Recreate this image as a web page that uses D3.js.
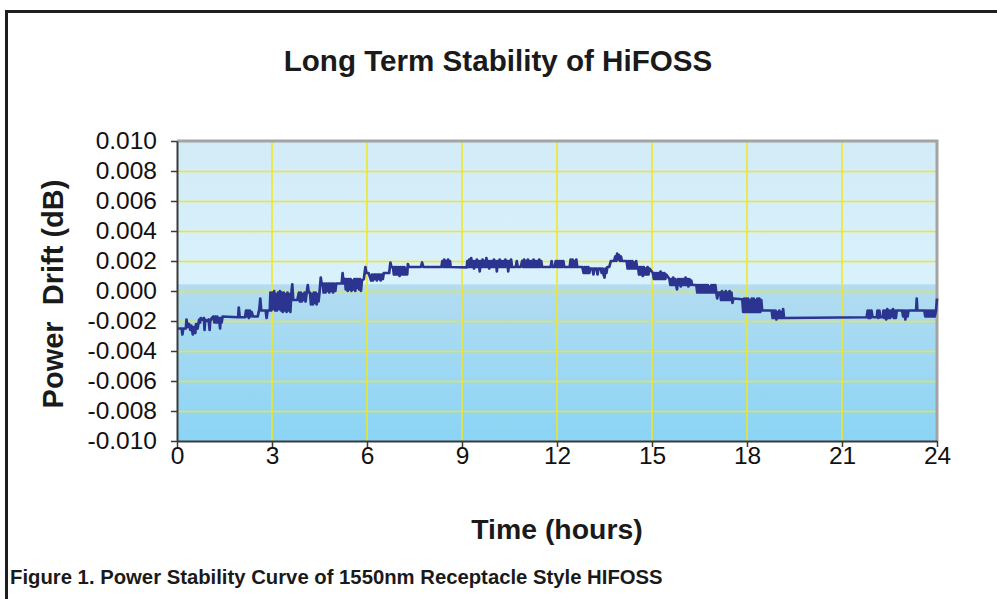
<!DOCTYPE html>
<html>
<head>
<meta charset="utf-8">
<script src="https://cdn.jsdelivr.net/npm/d3@7/dist/d3.min.js"></script>
<style>
  html, body { margin: 0; padding: 0; background: #ffffff; }
  svg { display: block; font-family: "Liberation Sans", Arial, sans-serif; }
</style>
</head>
<body>
<svg id="chart" width="997" height="599"></svg>
<script>
// ---------------- data ----------------
const chartTitle = "Long Term Stability of HiFOSS";
const xAxisTitle = "Time (hours)";
const yAxisTitle = "Power  Drift (dB)";
const captionText = "Figure 1. Power Stability Curve of 1550nm Receptacle Style HIFOSS";

const xTickValues = [0, 3, 6, 9, 12, 15, 18, 21, 24];
const xTickLabels = ["0", "3", "6", "9", "12", "15", "18", "21", "24"];
const yTickValues = [0.010, 0.008, 0.006, 0.004, 0.002, 0.000, -0.002, -0.004, -0.006, -0.008, -0.010];
const yTickLabels = ["0.010", "0.008", "0.006", "0.004", "0.002", "0.000", "-0.002", "-0.004", "-0.006", "-0.008", "-0.010"];

// [time (hours), power drift (dB)]
const driftReadings = [
  [0,-0.0025],[0.15,-0.0025],[0.17,-0.0029],[0.2,-0.0025],[0.28,-0.0025],[0.3,-0.0019],[0.33,-0.0024],[0.38,-0.0022],
  [0.42,-0.0026],[0.45,-0.0023],[0.5,-0.0029],[0.53,-0.0024],[0.58,-0.0028],[0.6,-0.0022],[0.65,-0.0025],[0.7,-0.0019],[0.73,-0.0021],
  [0.75,-0.0018],[0.8,-0.0019],[0.85,-0.0018],[0.87,-0.0026],[0.89,-0.0019],[0.95,-0.002],[1.0,-0.0019],[1.03,-0.0026],[1.05,-0.002],[1.1,-0.0018],
  [1.15,-0.0017],[1.18,-0.0021],[1.21,-0.0017],[1.24,-0.0021],[1.27,-0.0017],[1.3,-0.0021],[1.33,-0.0018],[1.36,-0.0025],[1.38,-0.0018],[1.41,-0.0021],[1.44,-0.0017],
  [1.93,-0.00175],[1.95,-0.0011],[1.98,-0.00175],[2.15,-0.00175],
  [2.18,-0.0013],[2.21,-0.0017],[2.24,-0.0013],[2.27,-0.0018],[2.3,-0.0013],[2.33,-0.0017],[2.36,-0.0014],[2.4,-0.0017],[2.55,-0.0017],
  [2.6,-0.0012],[2.63,-0.0005],[2.66,-0.0013],[2.8,-0.0013],[2.83,-0.0018],[2.86,-0.0013],[2.93,-0.0013],
  [2.95,-0.0001],[2.98,-0.0013],[3.01,-0.0001],[3.04,-0.0012],[3.07,0.0],[3.1,-0.0013],[3.13,-0.0002],[3.16,-0.0013],[3.19,-0.0001],
  [3.22,-0.0012],[3.25,0.0],[3.28,-0.0013],[3.31,-0.0001],[3.34,-0.0014],[3.37,-0.0001],[3.4,-0.0013],[3.43,-0.0002],[3.46,-0.0014],
  [3.49,-0.0001],[3.52,-0.0013],[3.55,-0.0002],[3.58,-0.0014],[3.61,-0.0002],
  [3.64,0.00045],[3.67,-0.0006],[3.8,-0.0006],
  [3.85,-0.0001],[3.88,-0.0007],[3.91,-0.0001],[3.94,-0.0007],[3.97,-0.0002],[4.0,-0.0006],[4.03,-0.0001],[4.06,-0.0007],[4.09,-0.0002],
  [4.13,0.0004],[4.16,-0.0001],
  [4.2,-0.0001],[4.23,-0.0009],[4.26,-0.0002],[4.29,-0.0009],[4.32,-0.0001],[4.35,-0.0008],[4.38,-0.0001],[4.41,-0.0009],[4.44,-0.0002],[4.47,-0.0007],[4.5,-0.0001],
  [4.54,0.0009],[4.57,0.0004],
  [4.6,0.0005],[4.63,-0.0001],[4.66,0.0005],[4.69,-0.0001],[4.72,0.0005],[4.75,0.0],[4.78,0.0005],[4.81,-0.0001],[4.84,0.0005],
  [4.87,0.0],[4.9,0.0005],[4.93,-0.0001],[4.96,0.0005],[5.0,0.0],[5.03,0.0005],[5.2,0.0005],
  [5.23,0.0012],[5.26,0.0005],
  [5.3,0.0008],[5.33,0.0001],[5.36,0.0008],[5.39,0.0],[5.42,0.0008],[5.45,0.0001],[5.48,0.0008],[5.51,0.0],[5.54,0.0007],[5.57,0.0001],
  [5.6,0.0008],[5.63,0.0],[5.66,0.0008],[5.69,0.0002],[5.72,0.0008],[5.75,0.0001],[5.78,0.0008],[5.81,0.0],[5.84,0.0007],
  [5.9,0.0008],[5.95,0.0016],[5.98,0.0012],[6.05,0.0012],
  [6.1,0.0009],[6.13,0.0007],[6.16,0.0011],[6.19,0.0007],[6.22,0.0011],[6.25,0.0008],[6.28,0.0011],[6.31,0.0007],[6.34,0.0011],
  [6.37,0.0008],[6.4,0.0011],[6.43,0.0007],[6.46,0.0011],[6.5,0.0008],[6.53,0.0012],[6.7,0.0012],
  [6.74,0.0019],[6.77,0.0016],[6.82,0.0016],
  [6.85,0.0011],[6.88,0.0016],[6.91,0.0011],[6.94,0.0016],[6.97,0.0011],[7.0,0.0016],[7.03,0.001],[7.06,0.0016],[7.09,0.0011],
  [7.12,0.0016],[7.15,0.0011],[7.18,0.0016],[7.21,0.0011],[7.24,0.0015],[7.27,0.0011],
  [7.29,0.0018],[7.32,0.0016],[7.7,0.0016],[7.74,0.0019],[7.78,0.0016],[8.35,0.0016],
  [8.38,0.002],[8.41,0.0016],[8.44,0.0021],[8.47,0.0016],[8.5,0.002],[8.53,0.0016],[8.56,0.0021],[8.59,0.0016],[8.62,0.002],[8.64,0.0016],
  [9.15,0.00158],
  [9.17,0.002],[9.2,0.0016],[9.23,0.0021],[9.26,0.0016],[9.29,0.0022],[9.32,0.0016],[9.35,0.002],[9.38,0.0015],[9.41,0.002],[9.44,0.0016],
  [9.47,0.0021],[9.5,0.0016],[9.53,0.002],[9.56,0.0013],[9.59,0.002],[9.62,0.0016],[9.65,0.0021],[9.68,0.0016],[9.71,0.002],[9.74,0.0016],
  [9.77,0.0022],[9.8,0.0016],[9.83,0.002],[9.86,0.0015],[9.89,0.002],[9.92,0.0016],[9.95,0.002],[9.98,0.0016],[10.01,0.0021],[10.04,0.0016],
  [10.07,0.002],[10.1,0.0013],[10.13,0.002],[10.16,0.0016],[10.19,0.0021],[10.22,0.0016],[10.25,0.002],[10.28,0.0016],[10.31,0.002],[10.34,0.0016],
  [10.37,0.0021],[10.4,0.0016],[10.43,0.002],[10.46,0.0013],[10.49,0.002],[10.52,0.0016],[10.55,0.0021],[10.58,0.0016],
  [10.7,0.0016],[10.73,0.002],[10.76,0.0016],[10.85,0.0016],
  [10.9,0.002],[10.93,0.0016],[10.96,0.0021],[10.99,0.0016],[11.02,0.002],[11.05,0.0016],[11.08,0.0021],[11.11,0.0016],[11.14,0.002],
  [11.17,0.0016],[11.2,0.002],[11.23,0.0016],[11.26,0.0021],[11.29,0.0016],[11.32,0.002],[11.35,0.0016],[11.38,0.002],[11.41,0.0016],
  [11.44,0.0021],[11.47,0.0016],[11.5,0.002],[11.53,0.0016],[11.8,0.0016],
  [11.83,0.002],[11.86,0.0016],[11.93,0.0016],[11.96,0.002],[11.99,0.0016],
  [12.02,0.002],[12.05,0.0016],[12.08,0.002],[12.11,0.0016],[12.14,0.002],[12.17,0.0016],[12.2,0.002],[12.23,0.0016],[12.4,0.0016],
  [12.43,0.0021],[12.46,0.0016],[12.49,0.0021],[12.52,0.0016],[12.55,0.002],[12.58,0.0016],[12.61,0.0021],[12.64,0.0016],[12.8,0.0016],
  [12.84,0.0012],[12.87,0.0016],[12.9,0.0012],[12.93,0.0016],[12.96,0.0012],[12.99,0.0016],[13.02,0.0012],[13.05,0.0015],[13.12,0.0015],
  [13.15,0.0011],[13.18,0.0015],[13.25,0.0015],[13.28,0.0011],[13.31,0.0015],[13.38,0.0015],[13.41,0.0012],[13.44,0.0015],[13.47,0.0011],
  [13.5,0.0009],[13.53,0.0015],[13.56,0.0012],[13.59,0.0016],[13.65,0.0016],
  [13.7,0.002],[13.8,0.002],[13.84,0.0023],[13.87,0.002],[13.9,0.0025],[13.93,0.0021],[13.96,0.0024],[13.99,0.002],[14.02,0.0023],[14.05,0.002],[14.2,0.002],
  [14.23,0.0015],[14.26,0.002],[14.29,0.0015],[14.32,0.002],[14.35,0.0015],[14.38,0.002],[14.41,0.0015],[14.44,0.0019],[14.47,0.0015],[14.5,0.002],[14.53,0.0015],
  [14.56,0.0016],[14.59,0.0011],[14.62,0.0016],[14.65,0.0011],[14.68,0.0016],[14.71,0.001],[14.74,0.0016],[14.77,0.0011],[14.8,0.0015],
  [14.83,0.0011],[14.86,0.0016],[14.89,0.0011],[14.92,0.0015],[15.03,0.0012],
  [15.06,0.0008],[15.09,0.0012],[15.12,0.0008],[15.15,0.0012],[15.18,0.0008],[15.21,0.0012],[15.24,0.0008],[15.27,0.0013],[15.3,0.0008],
  [15.33,0.0012],[15.36,0.0008],[15.39,0.0012],[15.42,0.0008],[15.45,0.0011],[15.55,0.0008],
  [15.58,0.0004],[15.61,0.0008],[15.64,0.0004],[15.67,0.0009],[15.7,0.0004],[15.73,0.0008],[15.76,0.0004],[15.79,0.0001],[15.82,0.0008],
  [15.85,0.0004],[15.88,0.0008],[15.91,0.0003],[15.94,0.0008],[15.97,0.0004],[16.0,0.0008],[16.03,0.0004],[16.06,0.0009],[16.09,0.0004],
  [16.12,0.0008],[16.15,0.0003],[16.18,0.0008],[16.21,0.0004],[16.24,0.0007],[16.27,0.0004],[16.4,0.0004],
  [16.43,-0.0001],[16.46,0.0004],[16.49,-0.0001],[16.52,0.0004],[16.55,-0.0001],[16.58,0.0004],[16.61,-0.0001],[16.64,0.0004],[16.67,-0.0001],
  [16.7,0.0004],[16.73,-0.0001],[16.76,0.0004],[16.79,-0.0001],[16.82,0.0003],[16.85,-0.0001],[16.88,0.0004],[16.91,-0.0001],[16.94,0.0004],
  [16.97,-0.0001],[17.0,0.0004],[17.03,-0.0001],
  [17.06,-0.0005],[17.09,-0.0001],[17.15,-0.0001],
  [17.18,-0.0006],[17.21,0.0],[17.24,-0.0006],[17.27,-0.0001],[17.3,-0.0006],[17.33,0.0],[17.36,-0.0006],[17.39,-0.0001],[17.42,-0.0006],
  [17.45,0.0],[17.48,-0.0006],[17.51,-0.0001],[17.54,-0.0008],[17.57,-0.0005],[17.85,-0.00055],
  [17.88,-0.0014],[17.91,-0.0005],[17.94,-0.0014],[17.97,-0.0005],[18.0,-0.0014],[18.03,-0.0005],[18.06,-0.0014],[18.09,-0.0006],[18.12,-0.0014],
  [18.15,-0.0005],[18.18,-0.0014],[18.21,-0.0005],[18.24,-0.0014],[18.27,-0.0006],[18.3,-0.0014],[18.33,-0.0005],[18.36,-0.0014],[18.39,-0.0005],
  [18.42,-0.0014],[18.45,-0.0006],[18.48,-0.0013],[18.78,-0.0013],
  [18.81,-0.0018],[18.84,-0.0013],[18.87,-0.0018],[18.9,-0.0013],[18.93,-0.0019],[18.96,-0.0014],[18.99,-0.0018],[19.02,-0.0013],[19.05,-0.0018],
  [19.08,-0.0014],[19.11,-0.0018],[19.14,-0.0012],[19.17,-0.0018],[21.78,-0.00175],
  [21.81,-0.0013],[21.84,-0.0018],[21.87,-0.0013],[21.9,-0.0018],[21.93,-0.0013],[21.96,-0.0017],[21.99,-0.00175],[22.1,-0.00175],
  [22.12,-0.0013],[22.15,-0.0018],[22.18,-0.0013],[22.21,-0.00175],[22.29,-0.00175],
  [22.31,-0.0013],[22.34,-0.0018],[22.37,-0.0013],[22.4,-0.0019],[22.43,-0.0012],[22.46,-0.0018],[22.49,-0.0013],[22.52,-0.0018],[22.55,-0.0013],
  [22.58,-0.0017],[22.61,-0.0012],[22.64,-0.0018],[22.67,-0.0013],[22.7,-0.0018],[22.73,-0.0013],[22.9,-0.0013],
  [22.93,-0.0017],[22.96,-0.0013],[23.0,-0.0019],[23.03,-0.0013],[23.07,-0.0017],[23.1,-0.0013],
  [23.34,-0.0013],[23.36,-0.0005],[23.38,-0.0013],[23.6,-0.0013],
  [23.63,-0.0017],[23.66,-0.0013],[23.69,-0.0017],[23.72,-0.0013],[23.75,-0.0017],[23.78,-0.0013],[23.81,-0.0017],[23.84,-0.0013],[23.87,-0.0017],
  [23.9,-0.0013],[23.93,-0.0017],[23.97,-0.0013],[24.0,-0.0005]
];

// ---------------- layout ----------------
const W = 997, H = 599;
const plot = { left: 177, right: 937, top: 141, bottom: 441 };

const svg = d3.select("#chart");

svg.append("rect").attr("x", 0).attr("y", 0).attr("width", W).attr("height", H).attr("fill", "#ffffff");

// outer frame (extends beyond the picture on the right and bottom)
svg.append("rect")
  .attr("x", 6.5).attr("y", 11.5).attr("width", 1100).attr("height", 700)
  .attr("fill", "none").attr("stroke", "#1e1e1e").attr("stroke-width", 3);

const x = d3.scaleLinear().domain([0, 24]).range([plot.left, plot.right]);
const y = d3.scaleLinear().domain([-0.010, 0.010]).range([plot.bottom, plot.top]);

// gradient background
const defs = svg.append("defs");
const grad = defs.append("linearGradient").attr("id", "bg").attr("x1", 0).attr("y1", 0).attr("x2", 0).attr("y2", 1);
[[0, "#d3ebf7"], [0.45, "#d9f1fb"], [0.475, "#d9f1fb"], [0.48, "#b3dcf1"], [1, "#8bd4f5"]]
  .forEach(([o, c]) => grad.append("stop").attr("offset", o).attr("stop-color", c));

svg.append("rect")
  .attr("x", plot.left).attr("y", plot.top)
  .attr("width", plot.right - plot.left).attr("height", plot.bottom - plot.top)
  .attr("fill", "url(#bg)");

// gridlines
const grid = svg.append("g").attr("stroke", "#f2e71a").attr("stroke-width", 1.5);
grid.selectAll("line.h").data(yTickValues.filter(v => v > -0.010 && v < 0.010)).join("line")
  .attr("x1", plot.left).attr("x2", plot.right)
  .attr("y1", d => Math.round(y(d)) + 0.5).attr("y2", d => Math.round(y(d)) + 0.5);
grid.selectAll("line.v").data(xTickValues.filter(v => v > 0 && v < 24)).join("line")
  .attr("y1", plot.top).attr("y2", plot.bottom)
  .attr("x1", d => x(d)).attr("x2", d => x(d));

// top and right border of plot area (grey)
svg.append("path")
  .attr("d", `M${plot.left},${plot.top} H${plot.right} V${plot.bottom}`)
  .attr("fill", "none").attr("stroke", "#a4a4a4").attr("stroke-width", 3);

// data line
const line = d3.line().x(d => x(d[0])).y(d => y(d[1]));
svg.append("path")
  .datum(driftReadings)
  .attr("d", line)
  .attr("fill", "none")
  .attr("stroke", "#2b3590")
  .attr("stroke-width", 2.7)
  .attr("stroke-linejoin", "round");

// axes
const yAxis = d3.axisLeft(y).tickValues(yTickValues).tickSize(6).tickSizeOuter(0)
  .tickFormat((d, i) => yTickLabels[i]);
const gy = svg.append("g").attr("transform", `translate(${plot.left},0)`).call(yAxis);
gy.select(".domain").attr("stroke", "#3a3a3a").attr("stroke-width", 2);
gy.selectAll(".tick line").attr("stroke", "#3a3a3a").attr("stroke-width", 1.5);
gy.selectAll(".tick text").attr("x", -20).attr("fill", "#111")
  .style("font-size", "24.5px").style("font-family", "'Liberation Sans', Arial, sans-serif");

const xAxis = d3.axisBottom(x).tickValues(xTickValues).tickSize(6).tickSizeOuter(0)
  .tickFormat((d, i) => xTickLabels[i]);
const gx = svg.append("g").attr("transform", `translate(0,${plot.bottom})`).call(xAxis);
gx.select(".domain").attr("stroke", "#3a3a3a").attr("stroke-width", 2);
gx.selectAll(".tick line").attr("stroke", "#3a3a3a").attr("stroke-width", 1.5);
gx.selectAll(".tick text").attr("y", 6).attr("fill", "#111")
  .style("font-size", "24.5px").style("font-family", "'Liberation Sans', Arial, sans-serif");

// titles
svg.append("text").attr("x", 498).attr("y", 71).attr("text-anchor", "middle")
  .attr("font-size", 29.6).attr("font-weight", "bold").attr("fill", "#1a1a1a").text(chartTitle);

svg.append("text").attr("x", 557).attr("y", 539).attr("text-anchor", "middle")
  .attr("font-size", 28.4).attr("font-weight", "bold").attr("fill", "#1a1a1a").text(xAxisTitle);

svg.append("text").attr("transform", `translate(63,294) rotate(-90)`).attr("text-anchor", "middle")
  .attr("font-size", 29).attr("font-weight", "bold").attr("fill", "#1a1a1a")
  .style("white-space", "pre").attr("xml:space", "preserve").text(yAxisTitle);

svg.append("text").attr("x", 10).attr("y", 584)
  .attr("font-size", 20.3).attr("font-weight", "bold").attr("fill", "#1a1a1a").text(captionText);
</script>
</body>
</html>
